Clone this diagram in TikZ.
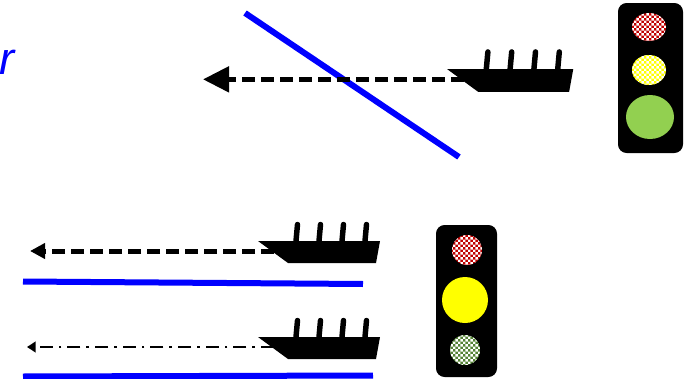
\documentclass[tikz,border=0pt]{standalone}
\usepackage{fontspec}
\usetikzlibrary{arrows.meta,shapes.geometric,patterns.meta}
\newfontfamily\signfont{Liberation Sans}
\definecolor{trackB}{HTML}{0000FF}
\definecolor{lampR}{HTML}{C00000}
\definecolor{lampY}{HTML}{FFFF00}
\definecolor{lampG}{HTML}{92D050}
\definecolor{lampDG}{HTML}{548235}
% small checker used for the blinking lamps
\tikzdeclarepattern{
  name=fineboard,
  type=uncolored,
  bottom left={(0pt,0pt)},
  top right={(4pt,4pt)},
  tile size={(4pt,4pt)},
  code={
    \fill (0pt,0pt) rectangle (2pt,2pt);
    \fill (2pt,2pt) rectangle (4pt,4pt);
  }
}
\tikzset{
  track/.style={trackB,line width=4.5pt},
  wake/.style={line width=3.75pt,dash pattern=on 9.75pt off 4.5pt},
  slowwake/.style={line width=1.6pt,dash pattern=on 9.75pt off 4.5pt on 2pt off 4.5pt},
  housing/.style={rectangle,fill=black,rounded corners=6.5pt,inner sep=0pt,outer sep=0pt},
  lamp/.style={ellipse,inner sep=0pt,outer sep=0pt},
  blink/.style={preaction={fill=#1},pattern=fineboard,pattern color=white},
  cut/.style={font=\signfont\itshape\fontsize{34}{40}\selectfont,text=trackB,inner sep=0pt},
  pics/ship/.style={code={
    \foreach \fx in {38,61,84,107}
      \draw[line width=4.1pt,line cap=round] (\fx,0) -- (\fx+1.5,-16.5);
    \fill (0,0) -- (122,0) -- (118,22) -- (30,22) -- cycle;
    \coordinate (-bow) at (16,10);
  }},
}

\begin{document}
\begin{tikzpicture}[x=0.75pt,y=-0.75pt]
\useasboundingbox (0,0) rectangle (687,379);

\node[cut,anchor=base west] (tail) at (-1,74) {r};

% ================= TOP: crossing =================
\draw[track] (245,13) -- (459,157);
\coordinate (tipA) at (203,79);
\pic[scale=1.035] (boatA) at (447,69) {ship};
\draw[wake,-{Triangle[length=19.5pt,width=18.75pt]}] (boatA-bow) -- (boatA-bow -| tipA);

\node[housing,minimum width=48.75pt,minimum height=112.5pt] (sigA) at (650.5,78) {};
\node[lamp,blink=lampR,minimum width=25.5pt,minimum height=21pt] (sigAr) at (649,27) {};
\node[lamp,blink=lampY,minimum width=25.5pt,minimum height=22.5pt] (sigAy) at (649,70) {};
\node[lamp,fill=lampG,minimum width=36pt,minimum height=33pt] (sigAg) at (650,117) {};

% ================= BOTTOM: two lanes =================
\coordinate (tipB) at (30,253);
\pic (boatB) at (258,241) {ship};
\draw[wake,-{Triangle[length=11.25pt,width=11.25pt]}] (boatB-bow) -- (boatB-bow -| tipB);
\draw[track] (23,281.5) -- (363,284);

\coordinate (tipC) at (27,348);
\pic (boatC) at (258,337) {ship};
\draw[slowwake,-{Triangle[length=6.5pt,width=8pt]}] (boatC-bow) -- (boatC-bow -| tipC);
\draw[track] (23,376.5) -- (373,375.5);

\node[housing,minimum width=45.75pt,minimum height=114pt] (sigB) at (466.5,301) {};
\node[lamp,blink=lampR,minimum width=22.5pt,minimum height=22.5pt] (sigBr) at (467,250) {};
\node[lamp,fill=lampY,minimum width=34.5pt,minimum height=34.5pt] (sigBy) at (465,300) {};
\node[lamp,blink=lampDG,minimum width=22.5pt,minimum height=22.5pt] (sigBg) at (465,350) {};

\end{tikzpicture}
\end{document}
